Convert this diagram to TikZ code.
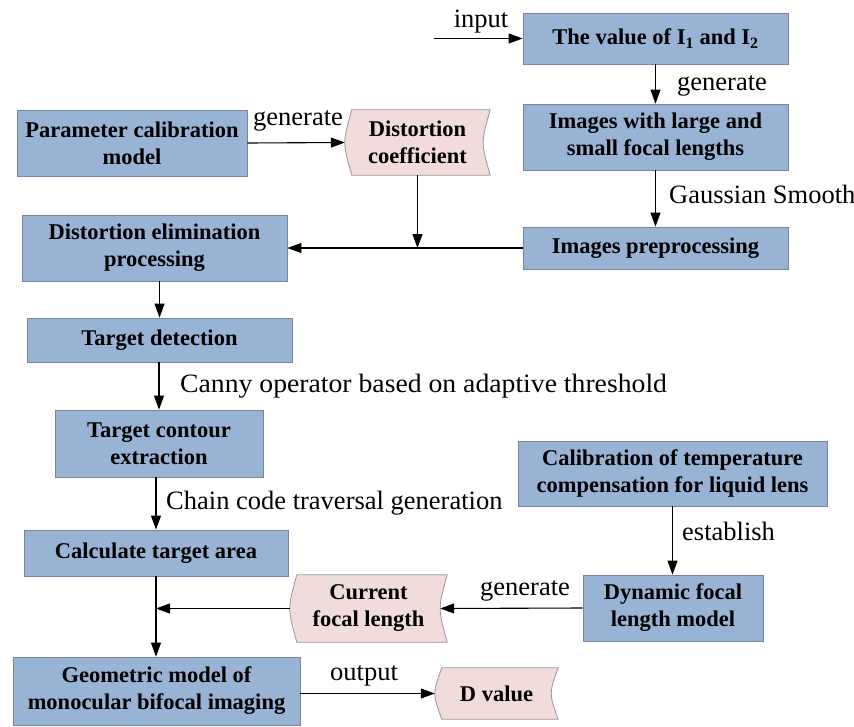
\documentclass[tikz,border=0pt]{standalone}
\usepackage{fontspec}
\setmainfont{Liberation Serif}
\usetikzlibrary{arrows.meta,calc,backgrounds}
\definecolor{boxblue}{RGB}{152,179,212}
\definecolor{boxedge}{RGB}{118,134,160}
\definecolor{sdpink}{RGB}{242,220,219}
\definecolor{sdedge}{RGB}{150,150,150}
\tikzset{
 proc/.style={draw=boxedge, fill=boxblue, line width=0.8pt, inner sep=0pt, align=center, font=\fontsize{22.5}{27}\selectfont\bfseries},
 sdnode/.style={inner sep=0pt, align=center, font=\fontsize{22.5}{27}\selectfont\bfseries},
 sdline/.style={draw=sdedge, fill=sdpink, line width=0.8pt},
 conn/.style={line width=1.1pt, -{Triangle[length=14pt,width=10pt]}},
 lbl/.style={font=\fontsize{26.5}{31}\selectfont, inner sep=0pt},
}
\newcommand\sdshape[1]{\path[sdline] ($(#1.north west)+(7,0)$) -- (#1.north east) .. controls ($(#1.east)+(-9.33,0)$) .. (#1.south east) -- ($(#1.south west)+(7,0)$) .. controls ($(#1.west)+(-2.33,0)$) .. cycle;}
\begin{document}
\begin{tikzpicture}[x=1pt,y=-1pt]
\useasboundingbox (0,0) rectangle (854,726);
% process boxes
\node[proc, minimum width=265, minimum height=51] (b1) at (655.5,38.5) {The value of I\textsubscript{1} and I\textsubscript{2}};
\node[proc, minimum width=265, minimum height=66] (b2) at (655.5,137) {Images with large and\\small focal lengths};
\node[proc, minimum width=265, minimum height=42] (b3) at (655.5,248) {Images preprocessing};
\node[proc, minimum width=230, minimum height=66] (pc) at (132,143) {Parameter calibration\\model};
\node[proc, minimum width=265, minimum height=66] (de) at (154.5,248) {Distortion elimination\\processing};
\node[proc, minimum width=265, minimum height=44] (td) at (159.5,340) {Target detection};
\node[proc, minimum width=208, minimum height=67] (tc) at (159,443.5) {Target contour\\extraction};
\node[proc, minimum width=264, minimum height=46] (ca) at (156,553) {Calculate target area};
\node[proc, minimum width=309, minimum height=65] (cal) at (672.5,473.5) {Calibration of temperature\\compensation for liquid lens};
\node[proc, minimum width=180, minimum height=66] (dy) at (673,608) {Dynamic focal\\length model};
\node[proc, minimum width=287, minimum height=68] (gm) at (156.5,691) {Geometric model of\\monocular bifocal imaging};
% stored data
\node[sdnode, minimum width=145, minimum height=65] (dc) at (417.5,142.5) {Distortion\\coefficient};
\node[sdnode, minimum width=157, minimum height=67] (cf) at (368.5,608.5) {Current\\focal length};
\node[sdnode, minimum width=123, minimum height=51] (dv) at (496.5,693.5) {D value};
\begin{scope}[on background layer]
\sdshape{dc}
\sdshape{cf}
\sdshape{dv}
\end{scope}
% connectors
\coordinate (inp) at (434,38.5);
\draw[conn] (inp) -- (b1.west);
\draw[conn] (b1.south) -- (b2.north);
\draw[conn] (b2.south) -- (b3.north);
\draw[conn] (b3.west) -- (de.east);
\draw[conn] (dc.south) -- (dc.south |- b3.west);
\draw[conn] (pc.east) -- (dc.west);
\draw[conn] (de.south -| td.north) -- (td.north);
\draw[conn] (td.south -| tc.north) -- (tc.north);
\draw[conn] (tc.south -| ca.north) -- (ca.north);
\draw[conn] (ca.south) -- (gm.north -| ca.south);
\draw[conn] (cf.west) -- (cf.west -| ca.south);
\draw[conn] (dy.west) -- ($(cf.east)+(-7,0)$);
\draw[conn] (cal.south) -- (dy.north -| cal.south);
\draw[conn] (gm.east |- dv.west) -- (dv.west);
% labels
\node[lbl, anchor=base] (l1) at (481,27) {input};
\node[lbl, anchor=base west] (l2) at (677,90) {generate};
\node[lbl, anchor=base west] (l3) at (669,203) {Gaussian Smooth};
\node[lbl, anchor=base west] (l4) at (253,125) {generate};
\node[lbl, anchor=base west, xscale=1.045, transform shape] (l5) at (180,392) {Canny operator based on adaptive threshold};
\node[lbl, anchor=base west] (l6) at (166,509) {Chain code traversal generation};
\node[lbl, anchor=base west] (l7) at (682,540) {establish};
\node[lbl, anchor=base west] (l8) at (480,595) {generate};
\node[lbl, anchor=base west] (l9) at (330,680) {output};
\end{tikzpicture}
\end{document}
